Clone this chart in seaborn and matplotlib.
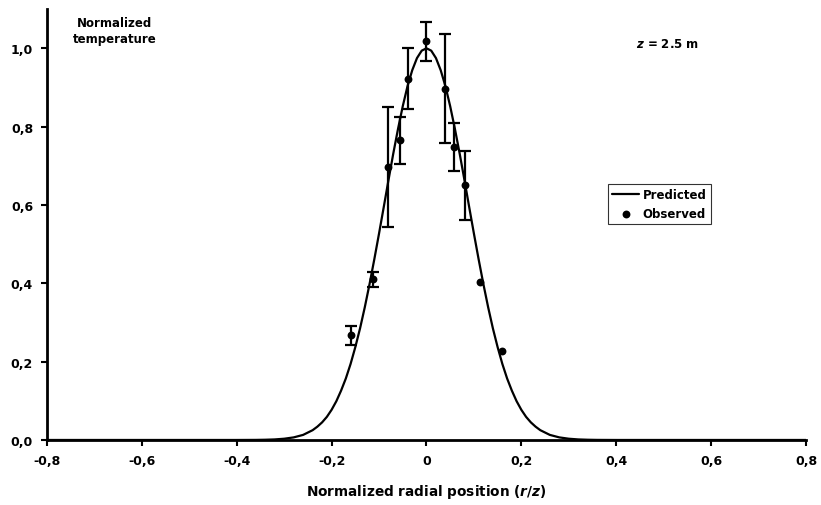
import numpy as np
import pandas as pd
import matplotlib
matplotlib.use("Agg")
import matplotlib.pyplot as plt
import seaborn as sns

# Curva prevista (metade direita; a curva é simétrica)
r_meia = [0.00, 0.01, 0.02, 0.03, 0.04, 0.05, 0.06, 0.07, 0.08, 0.09, 0.10,
          0.11, 0.12, 0.13, 0.14, 0.15, 0.16, 0.17, 0.18, 0.19, 0.20, 0.21,
          0.22, 0.23, 0.24, 0.26, 0.28, 0.30, 0.32, 0.34, 0.36, 0.40, 0.80]
t_meia = [1.000, 0.994, 0.975, 0.944, 0.903, 0.852, 0.794, 0.731, 0.664, 0.595, 0.527,
          0.461, 0.398, 0.339, 0.285, 0.237, 0.194, 0.157, 0.126, 0.099, 0.077, 0.059,
          0.045, 0.034, 0.025, 0.013, 0.0066, 0.0032, 0.0014, 0.0006, 0.0002, 0.0, 0.0]

# Pontos observados e barras de erro (limites inferior / superior)
obs_r = [-0.159, -0.112, -0.081, -0.055, -0.039, 0.000, 0.040, 0.057, 0.081, 0.112, 0.160]
obs_t = [0.268, 0.411, 0.696, 0.766, 0.921, 1.018, 0.897, 0.749, 0.651, 0.404, 0.228]
obs_min = [0.243, 0.391, 0.544, 0.705, 0.844, 0.967, 0.757, 0.687, 0.562, np.nan, np.nan]
obs_max = [0.291, 0.428, 0.849, 0.825, 1.000, 1.067, 1.036, 0.808, 0.739, np.nan, np.nan]

xticks = [-0.8, -0.6, -0.4, -0.2, 0.0, 0.2, 0.4, 0.6, 0.8]
xticklabels = ["-0,8", "-0,6", "-0,4", "-0,2", "0", "0,2", "0,4", "0,6", "0,8"]
yticks = [0.0, 0.2, 0.4, 0.6, 0.8, 1.0]
yticklabels = ["0,0", "0,2", "0,4", "0,6", "0,8", "1,0"]

sns.set_style("ticks")
plt.rcParams["font.family"] = ["DejaVu Sans"]
plt.rcParams["font.weight"] = "bold"
plt.rcParams["mathtext.fontset"] = "custom"
plt.rcParams["mathtext.it"] = "DejaVu Sans:italic:bold"
plt.rcParams["mathtext.rm"] = "DejaVu Sans:bold"
for k in ["text.color", "axes.labelcolor", "xtick.color", "ytick.color"]:
    plt.rcParams[k] = "black"

curva = pd.DataFrame({
    "r": np.concatenate([-np.array(r_meia[::-1]), np.array(r_meia[1:])]),
    "t": np.concatenate([np.array(t_meia[::-1]), np.array(t_meia[1:])]),
})
obs = pd.DataFrame({"r": obs_r, "t": obs_t, "tmin": obs_min, "tmax": obs_max})

fig = plt.figure(figsize=(8.21, 5.06), dpi=100)
ax = fig.add_axes([0.0572, 0.1285, 0.9245, 0.8515])

sns.lineplot(data=curva, x="r", y="t", color="black", linewidth=1.6,
             sort=False, label="Predicted", ax=ax)

barras = obs.dropna()
ax.errorbar(barras["r"], barras["t"],
            yerr=[barras["t"] - barras["tmin"], barras["tmax"] - barras["t"]],
            fmt="none", ecolor="black", elinewidth=1.6, capsize=4, capthick=1.6)

sns.scatterplot(data=obs, x="r", y="t", color="black", s=32, edgecolor="black",
                linewidth=0, label="Observed", ax=ax, zorder=3)

ax.set_xlim(-0.8, 0.8)
ax.set_ylim(0, 1.1)
ax.set_xticks(xticks)
ax.set_xticklabels(xticklabels)
ax.set_yticks(yticks)
ax.set_yticklabels(yticklabels)
ax.tick_params(axis="both", labelsize=9, width=1.5, length=4, color="black", pad=6)
for s in ["left", "bottom"]:
    ax.spines[s].set_linewidth(2)
    ax.spines[s].set_color("black")
sns.despine(ax=ax)

ax.set_xlabel("Normalized radial position ($r$/$z$)", fontsize=9.8, fontweight="bold", labelpad=11)
ax.set_ylabel("")

ax.text(0.0896, 0.985, "Normalized\ntemperature", transform=ax.transAxes,
        ha="center", va="top", fontsize=8.5, fontweight="bold", linespacing=1.3)
ax.text(0.818, 0.921, "$z$ = 2.5 m", transform=ax.transAxes,
        ha="center", va="center", fontsize=8.5, fontweight="bold")

leg = ax.legend(loc="upper left", bbox_to_anchor=(0.739, 0.594), borderaxespad=0,
                fontsize=8.5, frameon=True, fancybox=False, handlelength=2.3,
                handletextpad=0.3, borderpad=0.35, labelspacing=0.5)
leg.get_frame().set_edgecolor("black")
leg.get_frame().set_linewidth(0.8)
for t in leg.get_texts():
    t.set_fontweight("bold")

fig.savefig("out.png", dpi=100)
